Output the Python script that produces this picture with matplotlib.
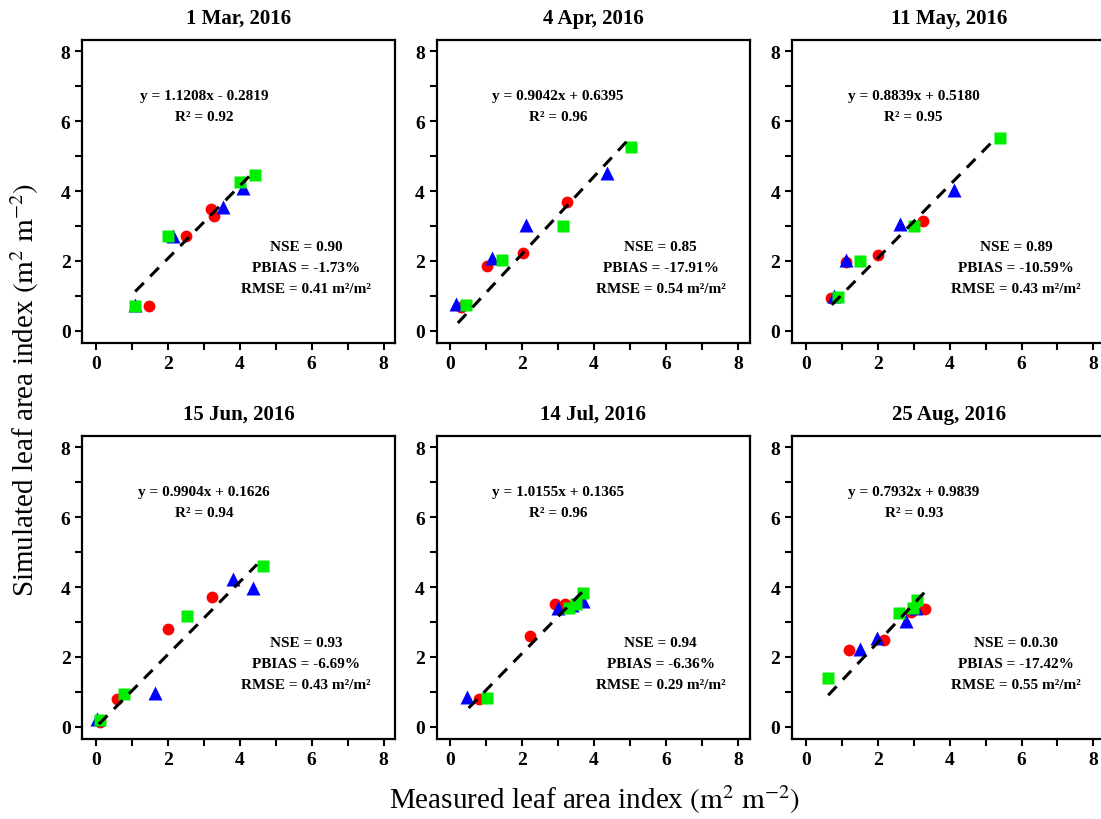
"""
Simulated vs measured leaf area index, six sampling dates.
"""

import matplotlib
matplotlib.use("Agg")
import matplotlib.pyplot as plt

plt.rcParams['font.family'] = ['Liberation Serif', 'DejaVu Serif']
plt.rcParams['mathtext.fontset'] = 'stix'

# Sampling dates (panel titles)
dates = ["1 Mar, 2016", "4 Apr, 2016", "11 May, 2016",
         "15 Jun, 2016", "14 Jul, 2016", "25 Aug, 2016"]

# Red circles: measured / simulated
red_meas = [[1.48, 2.51, 3.20, 3.27], [0.31, 1.01, 2.03, 3.24],
            [0.70, 1.11, 2.01, 3.27], [0.11, 0.59, 1.99, 3.24],
            [0.79, 2.22, 2.91, 3.19], [1.19, 2.18, 2.92, 3.32]]
red_sim = [[0.72, 2.71, 3.49, 3.30], [0.67, 1.86, 2.23, 3.70],
           [0.93, 1.96, 2.18, 3.13], [0.13, 0.80, 2.80, 3.71],
           [0.79, 2.61, 3.52, 3.52], [2.19, 2.49, 3.30, 3.38]]

# Blue triangles
blue_meas = [[1.08, 2.14, 3.53, 4.08], [0.17, 1.15, 2.12, 4.37],
             [0.77, 1.11, 2.62, 4.13], [0.04, 1.64, 3.81, 4.38],
             [0.47, 2.99, 3.40, 3.70], [1.51, 1.98, 2.79, 3.06]]
blue_sim = [[0.75, 2.71, 3.54, 4.08], [0.77, 2.07, 3.03, 4.51],
            [0.99, 2.04, 3.06, 4.03], [0.23, 0.97, 4.23, 3.97],
            [0.84, 3.40, 3.48, 3.60], [2.23, 2.54, 3.04, 3.40]]

# Green squares
green_meas = [[1.09, 2.00, 4.01, 4.43], [0.45, 1.44, 3.13, 5.04],
              [0.90, 1.50, 3.00, 5.41], [0.11, 0.79, 2.53, 4.66],
              [1.01, 3.29, 3.50, 3.68], [0.62, 2.58, 2.97, 3.08]]
green_sim = [[0.72, 2.71, 4.27, 4.46], [0.74, 2.03, 3.01, 5.25],
             [0.96, 2.01, 3.01, 5.52], [0.19, 0.94, 3.18, 4.59],
             [0.82, 3.40, 3.52, 3.84], [1.41, 3.27, 3.40, 3.64]]

# Dashed trend line as drawn in the original (slope, intercept, x range)
fit_slope = [1.04, 1.107, 1.046, 1.04, 1.053, 1.10]
fit_intercept = [-0.01, -0.01, -0.01, -0.01, 0.0, 0.22]
fit_x_start = [1.09, 0.21, 0.72, 0.08, 0.51, 0.62]
fit_x_end = [4.29, 4.96, 5.25, 4.48, 3.70, 3.29]

# Statistics printed in each panel
equations = ["y = 1.1208x - 0.2819", "y = 0.9042x + 0.6395",
             "y = 0.8839x + 0.5180", "y = 0.9904x + 0.1626",
             "y = 1.0155x + 0.1365", "y = 0.7932x + 0.9839"]
r2_vals = ["0.92", "0.96", "0.95", "0.94", "0.96", "0.93"]
nse_vals = ["0.90", "0.85", "0.89", "0.93", "0.94", "0.0.30"]
pbias_vals = ["-1.73%", "-17.91%", "-10.59%", "-6.69%", "-6.36%", "-17.42%"]
rmse_vals = ["0.41", "0.54", "0.43", "0.43", "0.29", "0.55"]

fig = plt.figure(figsize=(11.01, 8.20), dpi=100)

# axes boxes in figure fractions (left, bottom)
lefts = [0.0748, 0.3966, 0.7196]
bottoms = [0.5805, 0.0976]
width, height = 0.2843, 0.370

for i in range(6):
    row, col = divmod(i, 3)
    ax = fig.add_axes([lefts[col], bottoms[row], width, height])

    ax.plot(red_meas[i], red_sim[i], 'o', color='#ff0000', ms=8.5, mec='none')
    ax.plot(blue_meas[i], blue_sim[i], '^', color='#0000ff', ms=10, mec='none')
    ax.plot(green_meas[i], green_sim[i], 's', color='#00ee00', ms=8.5, mec='none')

    xs = [fit_x_start[i], fit_x_end[i]]
    ys = [fit_slope[i] * x + fit_intercept[i] for x in xs]
    ax.plot(xs, ys, '--', color='black', lw=2.2, dashes=(4, 3))

    ax.set_xlim(-0.38, 8.33)
    ax.set_ylim(-0.35, 8.34)
    ax.set_xticks(range(0, 9, 2))
    ax.set_yticks(range(0, 9, 2))
    ax.set_xticks(range(1, 9, 2), minor=True)
    ax.set_yticks(range(1, 9, 2), minor=True)
    ax.tick_params(which='both', direction='out', length=5, width=1.5)
    ax.tick_params(labelsize=14)
    for lab in ax.get_xticklabels() + ax.get_yticklabels():
        lab.set_fontweight('bold')
    for sp in ax.spines.values():
        sp.set_linewidth(1.6)

    ax.set_title(dates[i], fontsize=15, fontweight='bold', pad=12)

    ax.text(3.0, 6.73, equations[i], ha='center', va='center',
            fontsize=11, fontweight='bold')
    ax.text(3.0, 6.15, "R² = " + r2_vals[i], ha='center', va='center',
            fontsize=11, fontweight='bold')

    ax.text(5.85, 2.42, "NSE = " + nse_vals[i], ha='center', va='center',
            fontsize=11, fontweight='bold')
    ax.text(5.85, 1.82, "PBIAS = " + pbias_vals[i], ha='center', va='center',
            fontsize=11, fontweight='bold')
    ax.text(5.85, 1.22, "RMSE = " + rmse_vals[i] + " m²/m²", ha='center',
            va='center', fontsize=11, fontweight='bold')

fig.text(0.540, 0.025, r"Measured leaf area index $\mathrm{(m^2\ m^{-2})}$",
         ha='center', va='center', fontsize=21)
fig.text(0.022, 0.525, r"Simulated leaf area index $\mathrm{(m^2\ m^{-2})}$",
         ha='center', va='center', fontsize=21, rotation=90)

fig.savefig("out.png", dpi=100)
